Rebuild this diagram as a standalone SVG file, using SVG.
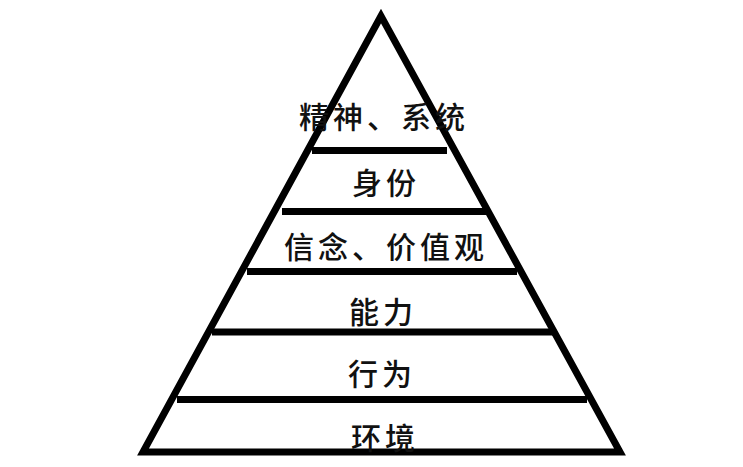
<svg xmlns="http://www.w3.org/2000/svg" width="743" height="467" viewBox="0 0 743 467">
<style>
.edge{fill:none;stroke:#000;stroke-width:7;stroke-linejoin:miter;stroke-miterlimit:10}
.bar{stroke:#000;stroke-width:7;stroke-linecap:butt}
.lbl{font-family:"Noto Sans CJK SC","Noto Sans CJK JP",sans-serif;font-size:30px;font-weight:500;fill:#111;text-anchor:middle;dominant-baseline:central;letter-spacing:4px}
</style>
<rect width="743" height="467" fill="#fff"/>
<g id="connectors">
<polygon class="edge" points="381,16 143,452 620,452"/>
<line class="bar" x1="312" y1="150.5" x2="447" y2="150.5"/>
<line class="bar" x1="282" y1="211.5" x2="487" y2="211.5"/>
<line class="bar" x1="247" y1="271.5" x2="517" y2="271.5"/>
<line class="bar" x1="212" y1="332" x2="553" y2="332"/>
<line class="bar" x1="177" y1="399.5" x2="587" y2="399.5"/>
</g>
<g id="n-spirit"><text class="lbl" x="384" y="115">精神、系统</text></g>
<g id="n-identity"><text class="lbl" x="386" y="181">身份</text></g>
<g id="n-belief"><text class="lbl" x="386" y="245">信念、价值观</text></g>
<g id="n-ability"><text class="lbl" x="383" y="310">能力</text></g>
<g id="n-behavior"><text class="lbl" x="382" y="372">行为</text></g>
<g id="n-environment"><text class="lbl" x="385" y="436">环境</text></g>
</svg>
